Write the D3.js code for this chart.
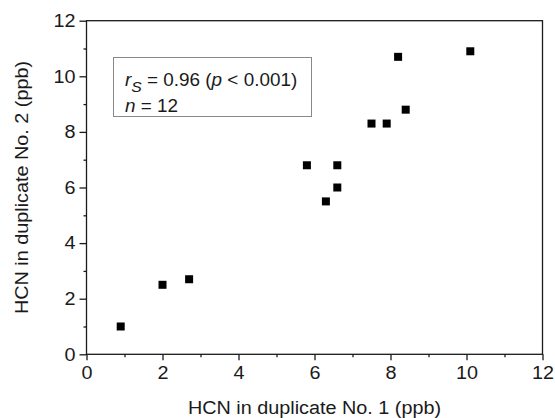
<!DOCTYPE html>
<html>
<head>
<meta charset="utf-8">
<script src="https://cdn.jsdelivr.net/npm/d3@7"></script>
<style>
  body { margin: 0; background: #fff; }
  svg { display: block; font-family: "Liberation Sans", Arial, sans-serif; }
  .tick text { font-family: "Liberation Sans", Arial, sans-serif; font-size: 18px; fill: #1a1a1a; }
</style>
</head>
<body>
<div id="chart"></div>
<script>
// duplicate No. 1 vs duplicate No. 2 (ppb)
const dup1 = [0.9, 2.0, 2.7, 5.8, 6.3, 6.6, 6.6, 7.5, 7.9, 8.2, 8.4, 10.1];
const dup2 = [1.0, 2.5, 2.7, 6.8, 5.5, 6.8, 6.0, 8.3, 8.3, 10.7, 8.8, 10.9];
const majorTicks = [0, 2, 4, 6, 8, 10, 12];
const minorTicks = [1, 3, 5, 7, 9, 11];

var width = 555, height = 418;
var margin = {top: 20.7, right: 12.5, bottom: 63.7, left: 86.5};
var ink = "#1a1a1a";

var svg = d3.select("#chart").append("svg")
  .attr("width", width)
  .attr("height", height);

var x = d3.scaleLinear().domain([0, 12]).range([margin.left, width - margin.right]);
var y = d3.scaleLinear().domain([0, 12]).range([height - margin.bottom, margin.top]);

// frame
svg.append("rect")
  .attr("x", x(0)).attr("y", y(12))
  .attr("width", x(12) - x(0)).attr("height", y(0) - y(12))
  .attr("fill", "none").attr("stroke", ink).attr("stroke-width", 1.3);

// minor ticks
svg.append("g")
  .attr("transform", `translate(0,${y(0)})`)
  .call(d3.axisBottom(x).tickValues(minorTicks).tickSize(3).tickFormat(""))
  .call(g => g.select(".domain").remove())
  .selectAll("line").attr("stroke", ink).attr("stroke-width", 1.3);
svg.append("g")
  .attr("transform", `translate(${x(0)},0)`)
  .call(d3.axisLeft(y).tickValues(minorTicks).tickSize(3).tickFormat(""))
  .call(g => g.select(".domain").remove())
  .selectAll("line").attr("stroke", ink).attr("stroke-width", 1.3);

// major ticks
var xAxis = svg.append("g")
  .attr("transform", `translate(0,${y(0)})`)
  .call(d3.axisBottom(x).tickValues(majorTicks).tickSize(6).tickPadding(6).tickFormat(d3.format("d")));
xAxis.select(".domain").remove();
xAxis.selectAll("line").attr("stroke", ink).attr("stroke-width", 1.3);

var yAxis = svg.append("g")
  .attr("transform", `translate(${x(0)},0)`)
  .call(d3.axisLeft(y).tickValues(majorTicks).tickSize(7).tickPadding(4).tickFormat(d3.format("d")));
yAxis.select(".domain").remove();
yAxis.selectAll("line").attr("stroke", ink).attr("stroke-width", 1.3);

// digits in the original are a little wider than Arial
svg.selectAll(".tick text")
  .filter(function() { return this.textContent !== ""; })
  .attr("textLength", function() { return this.textContent.length * 11; })
  .attr("lengthAdjust", "spacingAndGlyphs");

// axis titles
svg.append("text")
  .attr("x", (x(0) + x(12)) / 2).attr("y", 414)
  .attr("text-anchor", "middle")
  .attr("font-size", 18).attr("fill", ink)
  .attr("textLength", 253).attr("lengthAdjust", "spacingAndGlyphs")
  .text("HCN in duplicate No. 1 (ppb)");

svg.append("text")
  .attr("transform", `translate(28,${(y(0) + y(12)) / 2}) rotate(-90)`)
  .attr("text-anchor", "middle")
  .attr("font-size", 18).attr("fill", ink)
  .attr("textLength", 253).attr("lengthAdjust", "spacingAndGlyphs")
  .text("HCN in duplicate No. 2 (ppb)");

// points
svg.append("g")
  .selectAll("rect")
  .data(dup1)
  .enter().append("rect")
  .attr("x", (d, i) => x(d) - 4)
  .attr("y", (d, i) => y(dup2[i]) - 4)
  .attr("width", 8).attr("height", 8)
  .attr("fill", "#000");

// stats box
svg.append("rect")
  .attr("x", 113.5).attr("y", 57.5).attr("width", 198).attr("height", 59)
  .attr("fill", "#fff").attr("stroke", "#888").attr("stroke-width", 1);

var t1 = svg.append("text")
  .attr("transform", "translate(125,86) scale(1.05,1)")
  .attr("font-size", 18).attr("fill", ink);
t1.append("tspan").attr("font-style", "italic").text("r");
t1.append("tspan").attr("font-style", "italic").attr("font-size", 15).attr("dy", 6).text("S");
t1.append("tspan").attr("dy", -6).text(" = 0.96 (");
t1.append("tspan").attr("font-style", "italic").text("p");
t1.append("tspan").text(" < 0.001)");

var t2 = svg.append("text")
  .attr("transform", "translate(125,112) scale(1.05,1)")
  .attr("font-size", 18).attr("fill", ink);
t2.append("tspan").attr("font-style", "italic").text("n");
t2.append("tspan").text(" = 12");
</script>
</body>
</html>
